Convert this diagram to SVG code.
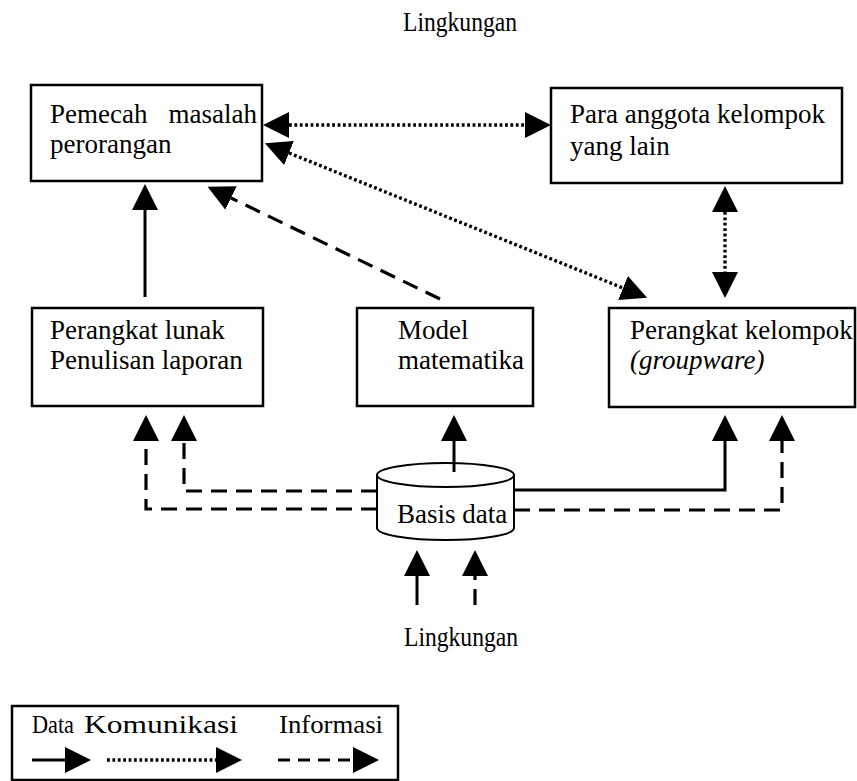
<svg xmlns="http://www.w3.org/2000/svg" width="857" height="781" viewBox="0 0 857 781">
<style>
text{font-family:"Liberation Serif","Times New Roman",serif;font-size:27px;fill:#000}
.leg{font-size:26px}
.box{fill:#fff;stroke:#000;stroke-width:2.5}
.solid{fill:none;stroke:#000;stroke-width:3}
.dot{fill:none;stroke:#000;stroke-width:3.4;stroke-dasharray:2.8 2.6}
.dash{fill:none;stroke:#000;stroke-width:3.2;stroke-dasharray:16 9}
.cyl{fill:#fff;stroke:#000;stroke-width:2}
</style>
<defs>
<marker id="ah" markerUnits="userSpaceOnUse" markerWidth="26" markerHeight="26" refX="0" refY="13" orient="auto-start-reverse" viewBox="0 0 26 26">
<path d="M0,0 L26,13 L0,26 z" fill="#000"/>
</marker>
</defs>
<rect width="857" height="781" fill="#fff"/>
<text x="403" y="31" textLength="114" lengthAdjust="spacingAndGlyphs">Lingkungan</text>
<text x="404" y="646" textLength="114" lengthAdjust="spacingAndGlyphs">Lingkungan</text>

<g id="pemecah">
<rect class="box" x="31" y="85" width="231" height="96"/>
<text x="50" y="123">Pemecah</text>
<text x="257" y="123" text-anchor="end">masalah</text>
<text x="50" y="153">perorangan</text>
</g>
<g id="anggota">
<rect class="box" x="551" y="88" width="291" height="95"/>
<text x="570" y="123">Para anggota kelompok</text>
<text x="570" y="155">yang lain</text>
</g>
<g id="perangkat-lunak">
<rect class="box" x="32" y="308" width="231" height="98"/>
<text x="50" y="339">Perangkat lunak</text>
<text x="50" y="369">Penulisan laporan</text>
</g>
<g id="model">
<rect class="box" x="357" y="308" width="176" height="98"/>
<text x="398" y="339">Model</text>
<text x="398" y="369">matematika</text>
</g>
<g id="groupware">
<rect class="box" x="609" y="308" width="246" height="99"/>
<text x="630" y="339">Perangkat kelompok</text>
<text x="630" y="369" font-style="italic">(groupware)</text>
</g>

<g id="connectors">
<line class="solid" x1="145" y1="297" x2="145" y2="210" marker-end="url(#ah)"/>
<line class="dash" x1="440" y1="299" x2="231" y2="198" marker-end="url(#ah)"/>
<line class="dot" x1="289" y1="125" x2="525" y2="125" marker-start="url(#ah)" marker-end="url(#ah)"/>
<line class="dot" x1="289" y1="153" x2="623" y2="288" marker-start="url(#ah)" marker-end="url(#ah)"/>
<line class="dot" x1="725" y1="212" x2="725" y2="272" marker-start="url(#ah)" marker-end="url(#ah)"/>
<polyline class="solid" points="514,490 725,490 725,441" marker-end="url(#ah)"/>
<polyline class="dash" points="514,510 782,510 782,441" marker-end="url(#ah)"/>
<polyline class="dash" points="377,491 184,491 184,441" marker-end="url(#ah)"/>
<polyline class="dash" points="377,509 146,509 146,441" marker-end="url(#ah)"/>
<line class="solid" x1="417" y1="605" x2="417" y2="576" marker-end="url(#ah)"/>
<line class="dash" x1="475" y1="605" x2="475" y2="576" marker-end="url(#ah)"/>
</g>

<g id="basis-data">
<path class="cyl" d="M377,475 L377,528 A68.5,12 0 0,0 514,528 L514,475 z"/>
<ellipse class="cyl" cx="445.5" cy="475" rx="68.5" ry="12"/>
<text x="397" y="523">Basis data</text>
</g>
<line class="solid" x1="454" y1="472" x2="454" y2="441" marker-end="url(#ah)"/>

<g id="legend">
<rect class="box" x="12" y="706" width="386" height="74"/>
<text class="leg" x="32" y="733" textLength="42" lengthAdjust="spacingAndGlyphs">Data</text>
<text class="leg" x="84" y="733" textLength="154" lengthAdjust="spacingAndGlyphs">Komunikasi</text>
<text class="leg" x="279" y="733" textLength="104" lengthAdjust="spacingAndGlyphs">Informasi</text>
<line class="solid" x1="32" y1="760" x2="65" y2="760" marker-end="url(#ah)"/>
<line class="dot" x1="107" y1="760" x2="216" y2="760" marker-end="url(#ah)"/>
<line fill="none" stroke="#000" stroke-width="3" stroke-dasharray="12 8" x1="278" y1="760" x2="353" y2="760" marker-end="url(#ah)"/>
</g>
</svg>
